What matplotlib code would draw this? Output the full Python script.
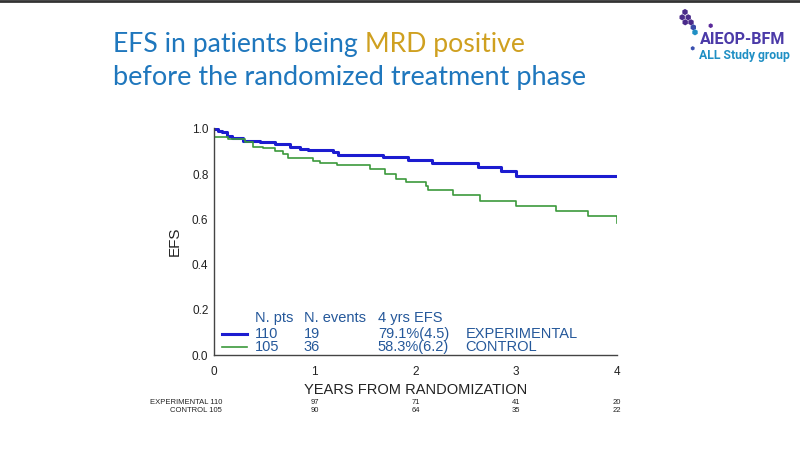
import matplotlib
matplotlib.use('Agg')
import matplotlib.pyplot as plt
from matplotlib.transforms import blended_transform_factory

# Kaplan-Meier steps (years, EFS)
exp_t = [0, 0.04, 0.076, 0.126, 0.176, 0.29, 0.457, 0.605, 0.754, 0.854, 0.936,
         1.184, 1.234, 1.68, 1.93, 2.16, 2.62, 2.855, 3.0, 4.0]
exp_s = [1.0, 0.993, 0.985, 0.970, 0.958, 0.948, 0.941, 0.932, 0.920, 0.913, 0.906,
         0.897, 0.885, 0.875, 0.863, 0.850, 0.833, 0.814, 0.793, 0.791]
ctl_t = [0, 0.001, 0.142, 0.31, 0.39, 0.49, 0.605, 0.688, 0.738, 0.986, 1.05,
         1.22, 1.55, 1.70, 1.81, 1.91, 2.11, 2.13, 2.375, 2.64, 3.0, 3.40, 3.715,
         3.995, 4.0]
ctl_s = [1.0, 0.966, 0.956, 0.941, 0.922, 0.915, 0.903, 0.888, 0.873, 0.860, 0.848,
         0.841, 0.822, 0.799, 0.779, 0.767, 0.749, 0.728, 0.708, 0.681, 0.661, 0.637,
         0.615, 0.615, 0.585]

groups = ['EXPERIMENTAL', 'CONTROL']
n_pts = ['110', '105']
n_events = ['19', '36']
efs_4y = ['79.1%(4.5)', '58.3%(6.2)']
risk_years = [1, 2, 3, 4]
risk_exp = [97, 71, 41, 20]
risk_ctl = [90, 64, 35, 22]

BLUE = '#1c1cd0'
GREEN = '#3c9a3c'
TXT = '#25589a'
TITLE = '#1f77bd'
GOLD = '#cfa020'
FONT = 'Liberation Sans'

fig = plt.figure(figsize=(8, 4.5), dpi=100, facecolor='white')
ax = fig.add_axes([0.2675, 0.211, 0.5035, 0.505])

ax.step(exp_t, exp_s, where='post', color=BLUE, lw=2.2)
ax.step(ctl_t, ctl_s, where='post', color=GREEN, lw=1.2)

ax.set_xlim(0, 4)
ax.set_ylim(0, 1.005)
ax.set_xticks([0, 1, 2, 3, 4])
ax.set_yticks([0, 0.2, 0.4, 0.6, 0.8, 1.0])
ax.set_yticklabels(['0.0', '0.2', '0.4', '0.6', '0.8', '1.0'])
for s in ['top', 'right']:
    ax.spines[s].set_visible(False)
for s in ['left', 'bottom']:
    ax.spines[s].set_color('#444444')
    ax.spines[s].set_linewidth(1.0)
ax.tick_params(axis='x', length=0, labelsize=8.5, pad=8)
ax.tick_params(axis='y', length=0, labelsize=8.5, pad=4)
for lab in ax.get_xticklabels() + ax.get_yticklabels():
    lab.set_color('#222222')
    lab.set_family(FONT)
ax.set_ylabel('EFS', fontsize=11, family=FONT, color='#222222', labelpad=7)

# legend-like table inside the plot
hdr_y, row_y = 0.164, [0.093, 0.035]
cols = [0.407, 0.893, 1.628, 2.50]
fs = 10.5
for x, h in zip(cols[:3], ['N. pts', 'N. events', '4 yrs EFS']):
    ax.text(x, hdr_y, h, color=TXT, fontsize=fs, family=FONT, va='center')
for i, (c, lw) in enumerate([(BLUE, 2.2), (GREEN, 1.2)]):
    ax.plot([0.08, 0.33], [row_y[i], row_y[i]], color=c, lw=lw)
    for x, v in zip(cols, [n_pts[i], n_events[i], efs_4y[i], groups[i]]):
        ax.text(x, row_y[i], v, color=TXT, fontsize=fs, family=FONT, va='center')

# x label and numbers at risk
tr = blended_transform_factory(ax.transData, fig.transFigure)
ax.text(2.0, 1 - 390 / 450, 'YEARS FROM RANDOMIZATION', transform=tr, ha='center',
        va='center', fontsize=10.5, family=FONT, color='#222222')
ry = [1 - 402 / 450, 1 - 410 / 450]
rfs = 5.5
ax.text(0.08, ry[0], 'EXPERIMENTAL ' + n_pts[0], transform=tr, ha='right', va='center',
        fontsize=rfs, family=FONT, color='#222222')
ax.text(0.08, ry[1], 'CONTROL ' + n_pts[1], transform=tr, ha='right', va='center',
        fontsize=rfs, family=FONT, color='#222222')
for x, a, b in zip(risk_years, risk_exp, risk_ctl):
    ax.text(x, ry[0], str(a), transform=tr, ha='center', va='center', fontsize=rfs,
            family=FONT, color='#222222')
    ax.text(x, ry[1], str(b), transform=tr, ha='center', va='center', fontsize=rfs,
            family=FONT, color='#222222')

# title (two colours on the first line)
t1 = fig.text(113 / 800, 1 - 52 / 450, 'EFS in patients being ', color=TITLE, fontsize=19.2,
              family='Lato', va='baseline')
fig.canvas.draw()
bb = t1.get_window_extent(fig.canvas.get_renderer())
fig.text(bb.x1 / 800, 1 - 52 / 450, 'MRD positive', color=GOLD, fontsize=19.2,
         family='Lato', va='baseline')
fig.text(113 / 800, 1 - 85 / 450, 'before the randomized treatment phase', color=TITLE,
         fontsize=19.5, family='Lato', va='baseline')

# logo
lax = fig.add_axes([0, 0, 1, 1], facecolor='none')
lax.set_xlim(0, 800)
lax.set_ylim(450, 0)
lax.axis('off')
dot_x = [685, 682.2, 688.2, 685.2, 691, 710.7, 693.3, 695, 692.7]
dot_y = [12.0, 17.3, 17.3, 22.3, 22.3, 25.7, 27.3, 32.3, 48.3]
dot_c = ['#4a2a8a', '#4a2a8a', '#4a2a8a', '#4a2a8a', '#4a2a8a', '#5a2a9a',
         '#3a4aa8', '#1f8fc4', '#3a50b0']
dot_s = [20, 20, 20, 20, 20, 12, 20, 20, 10]
lax.scatter(dot_x, dot_y, s=dot_s, c=dot_c, marker='h', linewidths=0)
lax.text(700, 44, 'AIEOP-BFM', color='#4b3aa8', fontsize=11.6, fontweight='bold',
         family='Roboto', va='baseline')
lax.text(699, 59, 'ALL Study group', color='#1f8fc4', fontsize=8.8, fontweight='bold',
         family='Roboto', va='baseline')
lax.plot([0, 800], [0.8, 0.8], color='#333333', lw=2)

fig.savefig('out.png', dpi=100, facecolor='white')
